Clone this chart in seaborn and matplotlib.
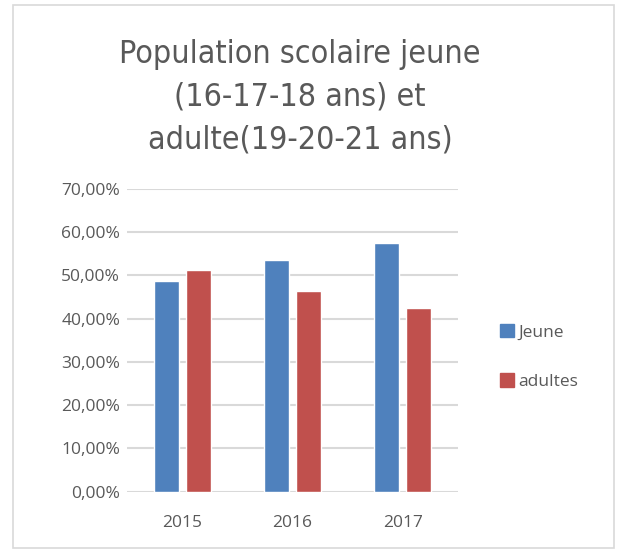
import matplotlib.pyplot as plt
import matplotlib.ticker as ticker
import matplotlib.patches as mpatches
import pandas as pd
import seaborn as sns

years = ["2015", "2016", "2017"]
jeune = [0.488, 0.536, 0.576]
adultes = [0.512, 0.464, 0.424]
series = ["Jeune", "adultes"]
colors = ["#4F81BD", "#C0504D"]
title = "Population scolaire jeune\n(16-17-18 ans) et\nadulte(19-20-21 ans)"

df = pd.DataFrame({
    "annee": years * 2,
    "valeur": jeune + adultes,
    "serie": [series[0]] * 3 + [series[1]] * 3,
})

sns.set_style("white")
plt.rcParams["font.family"] = ["Open Sans", "DejaVu Sans"]
txt = "#595959"

fig = plt.figure(figsize=(6.19, 5.52), dpi=100)
ax = fig.add_axes([127 / 619, 1 - 491.7 / 552, 331 / 619, (491.7 - 189) / 552])

sns.barplot(data=df, x="annee", y="valeur", hue="serie", palette=colors,
            width=0.58, gap=0.22, ax=ax, legend=False, saturation=1)

ax.set_ylim(0, 0.7)
ax.set_xlim(-0.5, 2.5)
ax.yaxis.set_major_locator(ticker.MultipleLocator(0.1))
ax.yaxis.set_major_formatter(ticker.FuncFormatter(lambda v, p: f"{v*100:.2f}%".replace(".", ",")))
ax.grid(axis="y", color="#D9D9D9", linewidth=1.5)
ax.set_axisbelow(True)
for s in ax.spines.values():
    s.set_visible(False)
ax.set_xlabel("")
ax.set_ylabel("")
ax.tick_params(axis="both", length=0, labelsize=12.5, labelcolor=txt)
ax.tick_params(axis="y", pad=5)
ax.tick_params(axis="x", pad=17)

fig.text(0.485, 1 - 97 / 552, title, ha="center", va="center", fontsize=23,
         color=txt, linespacing=1.48, family=["DejaVu Sans"], fontstretch="condensed")

handles = [mpatches.Patch(color=c, label=s) for c, s in zip(colors, series)]
fig.legend(handles=handles, loc="center left", bbox_to_anchor=(484 / 619, 1 - 357 / 552),
           frameon=False, fontsize=12.5, labelcolor=txt, handlelength=0.8,
           handleheight=0.8, handletextpad=0.3, labelspacing=1.9)

fig.patches.append(mpatches.Rectangle((13 / 619, 4 / 552), 601 / 619, 543 / 552,
                                      transform=fig.transFigure, fill=False,
                                      edgecolor="#D9D9D9", linewidth=1.2))

fig.savefig("out.png", dpi=100)
